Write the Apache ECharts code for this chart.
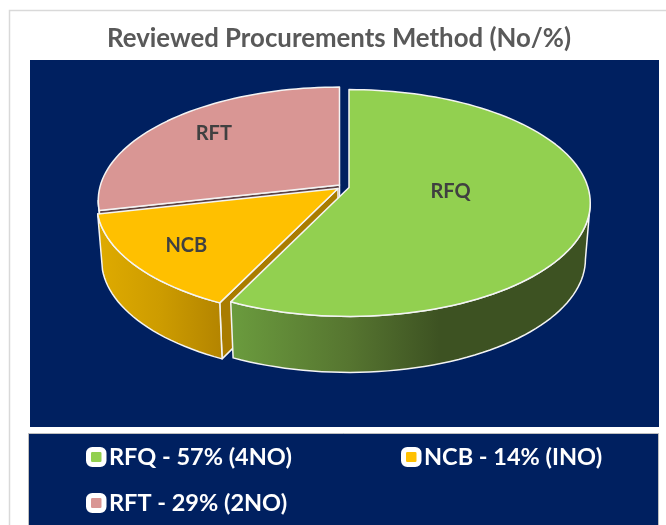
<!DOCTYPE html>
<html>
<head>
<meta charset="utf-8">
<style>
  html, body { margin: 0; padding: 0; background: #fff; }
  #chart { width: 666px; height: 525px; }
</style>
<script src="https://cdn.jsdelivr.net/npm/echarts@6/dist/echarts.min.js"></script>
</head>
<body>
<div id="chart"></div>
<script>
// chart data
const categories = ['RFQ', 'NCB', 'RFT'];
const counts = [4, 1, 2];
const percents = ['57%', '14%', '29%'];
const countLabels = ['4NO', 'INO', '2NO'];

const NAVY = '#002060';
const topColors = { RFQ: '#92d050', NCB: '#ffc000', RFT: '#d99694' };
const wallColors = {
  RFQ: [[0, '#6b9c3e'], [0.33, '#567530'], [0.58, '#3d5222'], [1, '#3d5222']],
  NCB: [[0, '#dfab00'], [0.5, '#cd9c00'], [1, '#b38400']],
  RFT: [[0, '#8f6462'], [1, '#8f6462']]
};
const cutColors = { NCB: '#a97c00', RFT: '#5c4244' };

// where each slice's apex sits after the explode, and its label placement
const apex = { RFQ: [349, 187.5], NCB: [338, 188.5], RFT: [339.5, 185] };
const labelSpot = {
  RFQ: { frac: 0.43, dx: 0, dy: -7 },
  NCB: { frac: 0.75, dx: -2, dy: 1 },
  RFT: { frac: 0.6, dx: -19, dy: -12 }
};

// pie projection (ground circle seen in perspective)
const RADIUS = 239;
const Y_SCALE = 111.3;
const PERSP = -0.1366;
const DEPTH = 56;
const BOTTOM_SHRINK = 0.98;
const RIM_MIN = 97.9;
const RIM_MAX = 262.1;

const total = counts.reduce((a, b) => a + b, 0);
const slices = {};
let sum = 0;
categories.forEach((c, i) => {
  const from = sum / total * 360;
  sum += counts[i];
  slices[c] = { from, to: sum / total * 360 };
});

function project(name, deg, frac) {
  const t = deg * Math.PI / 180;
  const x = Math.sin(t) * frac;
  const v = -Math.cos(t) * frac;
  const d = 1 + PERSP * v;
  return [apex[name][0] + x * RADIUS / d, apex[name][1] + v * Y_SCALE / d];
}

function drop(name, p) {
  return [apex[name][0] + (p[0] - apex[name][0]) * BOTTOM_SHRINK, p[1] + DEPTH];
}

function arc(name, from, to) {
  const pts = [];
  const n = Math.max(2, Math.ceil(Math.abs(to - from) / 2));
  for (let i = 0; i <= n; i++) {
    pts.push(project(name, from + (to - from) * i / n, 1));
  }
  return pts;
}

function poly(points, fill) {
  return {
    type: 'polygon',
    shape: { points },
    style: { fill, stroke: '#f4f4f4', lineWidth: 1.5, lineJoin: 'round' }
  };
}

function drawSlice(name) {
  const s = slices[name];
  const children = [];
  const a = apex[name];

  // cut face at the slice's start, shows through the gap
  if (cutColors[name]) {
    const edge = project(name, s.from, 1);
    children.push(poly([a, edge, drop(name, edge), drop(name, a)], cutColors[name]));
  }

  // outer wall, only the part that faces the viewer
  const from = Math.max(s.from, RIM_MIN);
  const to = Math.min(s.to, RIM_MAX);
  if (to > from) {
    const rim = arc(name, from, to);
    const low = rim.map(p => drop(name, p)).reverse();
    const fill = new echarts.graphic.LinearGradient(0, 0, 1, 0,
      wallColors[name].map(w => ({ offset: w[0], color: w[1] })));
    children.push(poly(rim.concat(low), fill));
  }

  // top face
  children.push(poly([a].concat(arc(name, s.from, s.to)), topColors[name]));

  // label
  const spot = labelSpot[name];
  const p = project(name, (s.from + s.to) / 2, spot.frac);
  children.push({
    type: 'text',
    x: p[0] + spot.dx,
    y: p[1] + spot.dy,
    style: {
      text: name,
      fill: '#404040',
      font: 'bold 20px Lato',
      textAlign: 'center',
      textVerticalAlign: 'middle'
    }
  });
  return { type: 'group', children };
}

function legendName(i) {
  return categories[i] + ' - ' + percents[i] + ' (' + countLabels[i] + ')';
}

function legendAt(i, left, top) {
  return {
    left,
    top,
    padding: 0,
    selectedMode: false,
    itemWidth: 15.5,
    itemHeight: 15,
    data: [{
      name: legendName(i),
      icon: 'roundRect',
      itemStyle: { color: topColors[categories[i]], borderColor: '#fff', borderWidth: 5 }
    }],
    textStyle: {
      color: '#fff',
      fontFamily: 'Lato',
      fontWeight: 'bold',
      fontSize: 23.5
    }
  };
}

const chart = echarts.init(document.getElementById('chart'));

chart.setOption({
  animation: false,
  backgroundColor: '#fff',
  title: {
    text: 'Reviewed Procurements Method (No/%)',
    left: 334,
    top: 21,
    textAlign: 'center',
    textStyle: { color: '#595959', fontFamily: 'Lato', fontWeight: 'bold', fontSize: 25.8 }
  },
  legend: [legendAt(0, 86, 445), legendAt(1, 401, 445), legendAt(2, 86, 491)],
  graphic: [
    { type: 'polyline', z: -3, shape: { points: [[9.5, 525], [9.5, 10.5], [666, 10.5]] },
      style: { stroke: '#d9d9d9', lineWidth: 1.5, fill: null } },
    { type: 'rect', z: -2, shape: { x: 30, y: 60, width: 629, height: 367 }, style: { fill: NAVY } },
    { type: 'rect', z: -2, shape: { x: 28.5, y: 433.5, width: 630, height: 100 },
      style: { fill: NAVY, stroke: '#bfbfbf', lineWidth: 1 } }
  ],
  // painted back to front
  series: [2, 1, 0].map(i => ({
    type: 'custom',
    name: legendName(i),
    coordinateSystem: 'none',
    itemStyle: { color: topColors[categories[i]] },
    data: [counts[i]],
    renderItem: () => drawSlice(categories[i])
  }))
});
</script>
</body>
</html>
